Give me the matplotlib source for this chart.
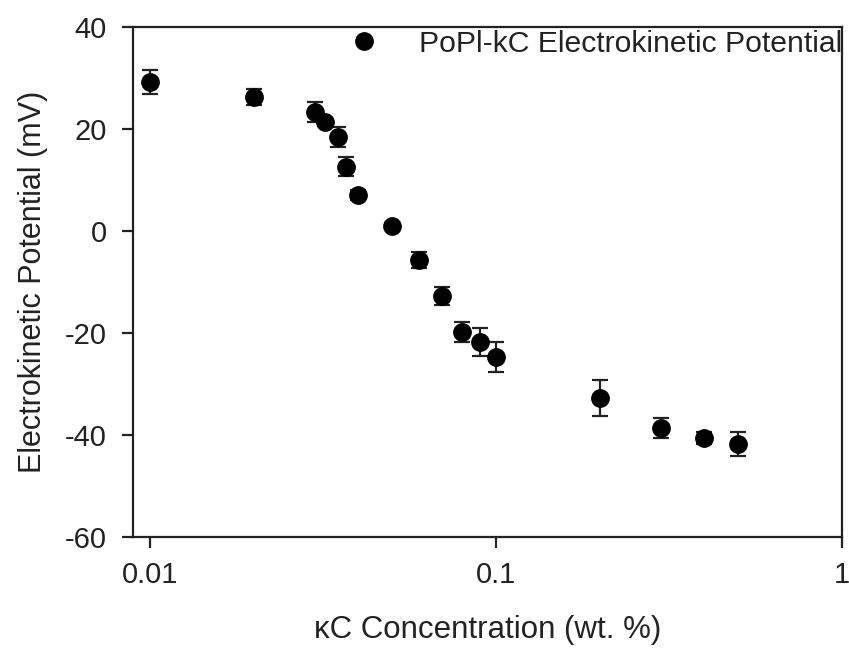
import matplotlib
matplotlib.use("Agg")
import matplotlib.pyplot as plt             # type: ignore
from matplotlib.ticker import FixedLocator, NullLocator, FixedFormatter

# kC concentration (wt. %) vs electrokinetic potential (mV)
conc = [0.01, 0.02, 0.03, 0.032, 0.035, 0.037, 0.04, 0.05, 0.06,
        0.07, 0.08, 0.09, 0.1, 0.2, 0.3, 0.4, 0.5]
zeta = [29.2, 26.3, 23.3, 21.4, 18.4, 12.6, 7.1, 1.0, -5.7,
        -12.7, -19.8, -21.8, -24.7, -32.7, -38.6, -40.6, -41.8]
zeta_err = [2.3, 1.5, 2.0, 0.8, 2.0, 1.9, 1.0, 0.5, 1.6,
            1.8, 2.0, 2.8, 2.9, 3.5, 2.0, 1.2, 2.3]

x_ticks = [0.01, 0.1, 1]
x_labels = ["0.01", "0.1", "1"]
y_ticks = [40, 20, 0, -20, -40, -60]

plt.rcParams["font.family"] = ["Liberation Sans", "DejaVu Sans"]
plt.rcParams["axes.unicode_minus"] = False
FS = 21
INK = "#222222"

fig = plt.figure(figsize=(8.49, 6.53), dpi=100)
ax = fig.add_axes([133 / 849, 116 / 653, 709 / 849, 510 / 653])

cont = ax.errorbar(conc, zeta, yerr=zeta_err, fmt="o", color="black",
                   ecolor="#222222", elinewidth=1.6, capsize=6, capthick=1.6,
                   markersize=12.5, label="PoPl-kC Electrokinetic Potential")

ax.set_xscale("log")
ax.set_xlim(0.00894, 1.0)
ax.set_ylim(-60, 40)
ax.xaxis.set_major_locator(FixedLocator(x_ticks))
ax.xaxis.set_major_formatter(FixedFormatter(x_labels))
ax.xaxis.set_minor_locator(NullLocator())
ax.set_yticks(y_ticks)

for s in ax.spines.values():
    s.set_linewidth(1.6)
    s.set_color(INK)
ax.tick_params(direction="out", length=8, width=1.6, labelsize=FS,
               colors=INK)
ax.tick_params(axis="x", pad=9)
ax.tick_params(axis="y", pad=11)

ax.set_xlabel("\u03baC Concentration (wt. %)", fontsize=22.5, labelpad=19,
              color=INK)
ax.set_ylabel("Electrokinetic Potential (mV)", fontsize=22, labelpad=12,
              color=INK)

ax.legend(handles=[cont[0]], labels=["PoPl-kC Electrokinetic Potential"],
          loc="upper right", bbox_to_anchor=(1.0, 0.995), frameon=False,
          fontsize=21.7, borderaxespad=0, borderpad=0, handlelength=2,
          handletextpad=0.8, numpoints=1, labelcolor=INK)

fig.savefig("out.png", dpi=100)
